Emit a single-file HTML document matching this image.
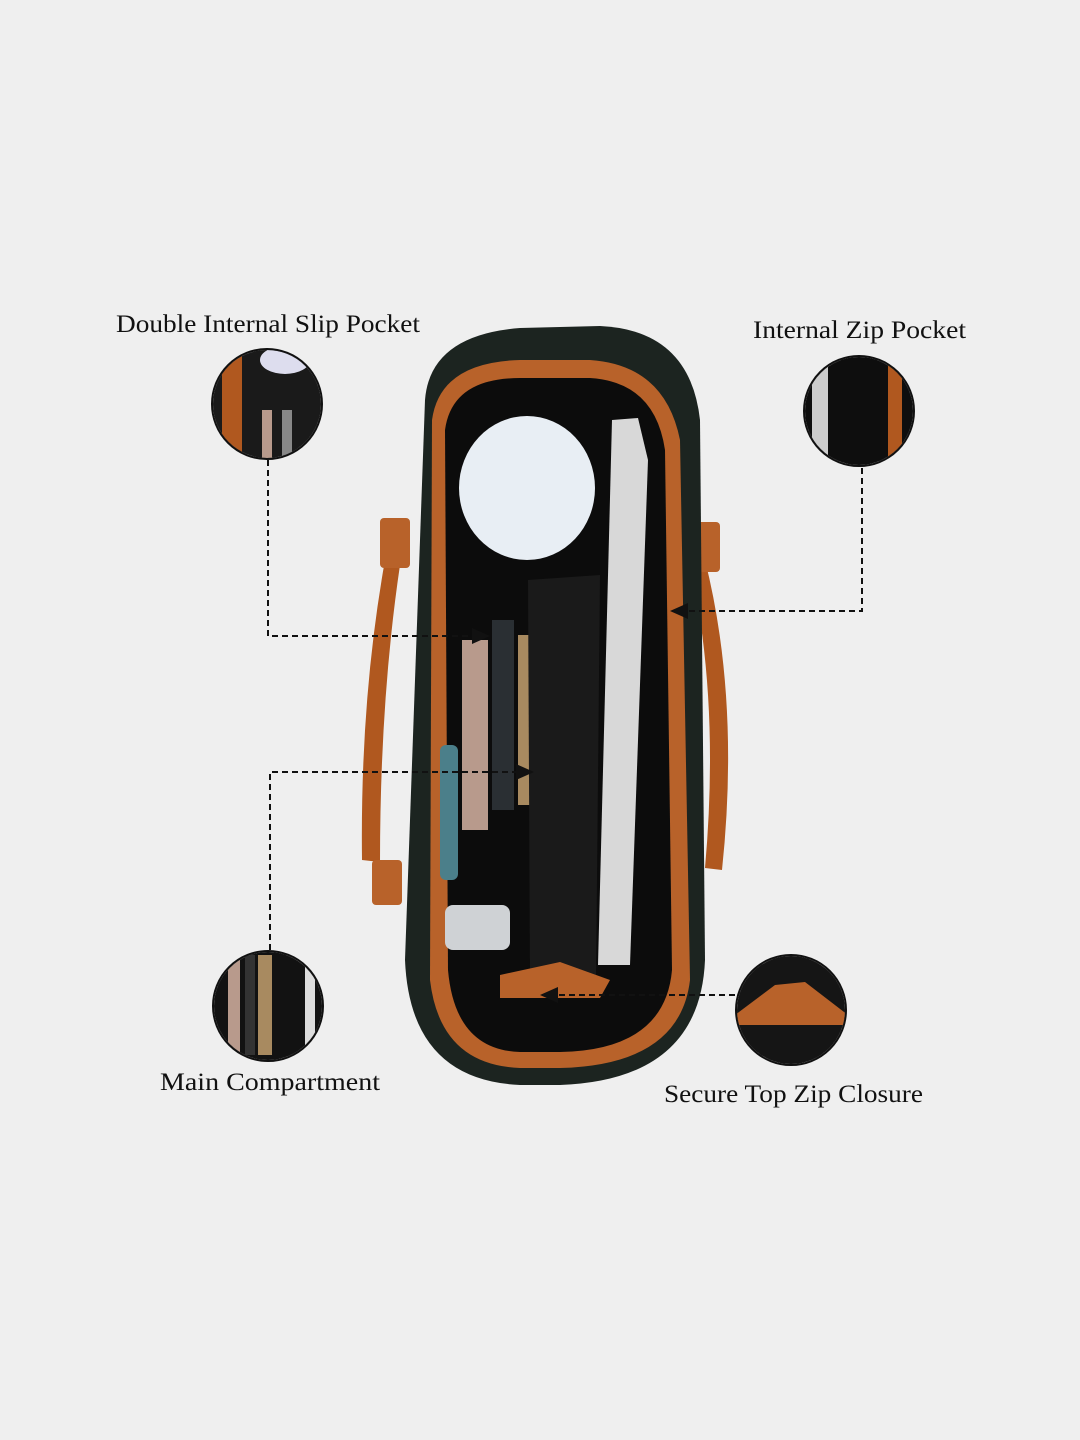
<!DOCTYPE html>
<html><head><meta charset="utf-8"><style>
html,body{margin:0;padding:0;background:#efefef;}
svg{display:block}
text{font-family:"Liberation Serif",serif;font-size:25px;fill:#111}
</style></head><body>
<svg width="1080" height="1440" viewBox="0 0 1080 1440">
<defs>
<marker id="ar" markerWidth="10" markerHeight="10" refX="8" refY="5" orient="auto"><path d="M0,1 L9,5 L0,9 z" fill="#111"/></marker>
<clipPath id="c1"><circle cx="267" cy="404" r="54"/></clipPath>
<clipPath id="c2"><circle cx="859" cy="411" r="54"/></clipPath>
<clipPath id="c3"><circle cx="268" cy="1006" r="54"/></clipPath>
<clipPath id="c4"><circle cx="791" cy="1010" r="54"/></clipPath>
</defs>
<rect width="1080" height="1440" fill="#efefef"/>
<path d="M385,560 Q360,700 362,860 L380,862 Q380,700 400,565 z" fill="#b0581f"/>
<path d="M705,560 Q740,700 722,870 L705,868 Q720,700 690,565 z" fill="#b0581f"/>
<rect x="380" y="518" width="30" height="50" rx="4" fill="#b8622a"/>
<rect x="372" y="860" width="30" height="45" rx="4" fill="#b8622a"/>
<rect x="690" y="522" width="30" height="50" rx="4" fill="#b8622a"/>
<rect x="672" y="868" width="30" height="45" rx="4" fill="#b8622a"/>
<path d="M425,400 Q430,335 520,328 L600,326 Q690,330 700,420 L705,960 Q700,1080 560,1085 L520,1085 Q410,1080 405,960 Z" fill="#1c2420"/>
<path d="M432,420 Q440,362 520,360 L590,360 Q665,365 680,440 L690,980 Q680,1065 560,1068 L520,1068 Q440,1065 430,980 Z" fill="#b8622a"/>
<path d="M445,430 Q452,378 520,378 L590,378 Q655,382 665,450 L672,970 Q665,1050 560,1052 L520,1052 Q455,1050 448,970 Z" fill="#0c0c0c"/>
<path d="M612,420 L638,418 L648,460 L630,965 L598,965 Z" fill="#d8d8d8"/>
<ellipse cx="527" cy="488" rx="68" ry="72" fill="#e8eef4"/>
<rect x="462" y="640" width="26" height="190" fill="#b89a8c"/>
<rect x="492" y="620" width="22" height="190" fill="#2a2f33"/>
<rect x="518" y="635" width="26" height="170" fill="#a88a60"/>
<rect x="440" y="745" width="18" height="135" rx="6" fill="#4b7f8a"/>
<rect x="445" y="905" width="65" height="45" rx="8" fill="#cfd2d5"/>
<path d="M528,580 L600,575 L596,980 L530,980 Z" fill="#1a1a1a"/>
<path d="M500,975 L560,962 L610,980 L600,998 L500,998 Z" fill="#b8622a"/>
<g clip-path="url(#c1)"><rect x="210" y="348" width="115" height="115" fill="#1a1a1a"/><rect x="222" y="348" width="20" height="115" fill="#b0581f"/><rect x="262" y="410" width="10" height="55" fill="#b89a8c"/><rect x="282" y="410" width="10" height="55" fill="#888"/><ellipse cx="285" cy="360" rx="25" ry="14" fill="#dde"/></g>
<circle cx="267" cy="404" r="55" fill="none" stroke="#111" stroke-width="2"/>
<g clip-path="url(#c2)"><rect x="800" y="355" width="120" height="115" fill="#0e0e0e"/><rect x="812" y="355" width="16" height="115" fill="#ccc"/><rect x="888" y="355" width="14" height="115" fill="#b0581f"/></g>
<circle cx="859" cy="411" r="55" fill="none" stroke="#111" stroke-width="2"/>
<g clip-path="url(#c3)"><rect x="210" y="950" width="120" height="115" fill="#121212"/><rect x="228" y="960" width="12" height="100" fill="#b89a8c"/><rect x="245" y="955" width="10" height="100" fill="#333"/><rect x="258" y="955" width="14" height="100" fill="#a88a60"/><rect x="305" y="960" width="10" height="100" fill="#ddd"/></g>
<circle cx="268" cy="1006" r="55" fill="none" stroke="#111" stroke-width="2"/>
<g clip-path="url(#c4)"><rect x="730" y="950" width="120" height="120" fill="#151515"/><path d="M735,1015 L775,985 L805,982 L848,1015 L848,1025 L735,1025 Z" fill="#b8622a"/></g>
<circle cx="791" cy="1010" r="55" fill="none" stroke="#111" stroke-width="2"/>
<g stroke="#111" stroke-width="2" stroke-dasharray="6,4" fill="none">
<path d="M268,460 L268,636 L488,636" marker-end="url(#ar)"/>
<path d="M862,468 L862,611 L672,611" marker-end="url(#ar)"/>
<path d="M270,950 L270,772 L532,772" marker-end="url(#ar)"/>
<path d="M735,995 L542,995" marker-end="url(#ar)"/>
</g>
<text x="116" y="332" textLength="304" lengthAdjust="spacingAndGlyphs">Double Internal Slip Pocket</text>
<text x="753" y="338" textLength="213" lengthAdjust="spacingAndGlyphs">Internal Zip Pocket</text>
<text x="160" y="1090" textLength="220" lengthAdjust="spacingAndGlyphs">Main Compartment</text>
<text x="664" y="1102" textLength="259" lengthAdjust="spacingAndGlyphs">Secure Top Zip Closure</text>
</svg>
</body></html>
